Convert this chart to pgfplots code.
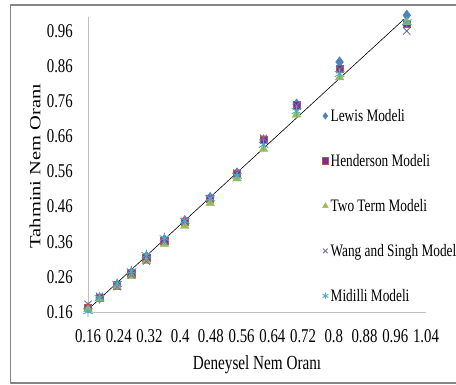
\documentclass[border=0pt]{standalone}
\usepackage{pgfplots}
\pgfplotsset{compat=1.18}
\usepackage{fontspec}
\setmainfont{Liberation Serif}[FakeStretch=0.76]
\newfontfamily\plainserif{Liberation Serif}
\definecolor{cLewis}{HTML}{4F81BD}
\definecolor{cHendF}{HTML}{7030A0}
\definecolor{cHendE}{HTML}{C0504D}
\definecolor{cTwo}{HTML}{9BBB59}
\definecolor{cWang}{HTML}{8064A2}
\definecolor{cMid}{HTML}{4BACC6}
\definecolor{frameGray}{HTML}{868686}
\definecolor{axisGray}{HTML}{BFBFBF}
\begin{document}
\begin{tikzpicture}
\useasboundingbox (0pt,0pt) rectangle (456pt,385pt);
\clip (0pt,0pt) rectangle (456pt,385pt);
\draw[color=frameGray, line width=1.5pt] (10.5pt,2pt) rectangle (480pt,380pt);
\begin{axis}[
  at={(88pt,73pt)}, anchor=south west,
  scale only axis, width=338pt, height=295pt,
  xmin=0.16, xmax=1.04, ymin=0.16, ymax=1.0,
  clip=false,
  axis x line*=bottom, axis y line*=left,
  axis line style={color=axisGray, line width=0.8pt, -},
  major tick length=0pt,
  xtick={0.16,0.24,0.32,0.40,0.48,0.56,0.64,0.72,0.80,0.88,0.96,1.04},
  xticklabels={0.16,0.24,0.32,0.4,0.48,0.56,0.64,0.72,0.8,0.88,0.96,1.04},
  ytick={0.16,0.26,0.36,0.46,0.56,0.66,0.76,0.86,0.96},
  yticklabels={0.16,0.26,0.36,0.46,0.56,0.66,0.76,0.86,0.96},
  ticklabel style={font=\fontsize{19.5}{20}\selectfont, inner sep=0pt},
  xticklabel style={anchor=center, yshift=-24pt},
  yticklabel style={anchor=east, xshift=-15pt},
  xlabel={Deneysel Nem Oranı},
  xlabel style={at={(axis description cs:0.5,-0.18)}, anchor=center, font=\fontsize{20}{21}\selectfont, inner sep=0pt},
  ylabel={\scalebox{1}[0.76]{\plainserif\fontsize{20.5}{21}\selectfont Tahmini Nem Oranı}},
  ylabel style={at={(axis description cs:-0.157,0.495)}, anchor=center, inner sep=0pt},
  legend cell align=left,
  legend image code/.code={\draw[#1, only marks, mark size=3.3pt] plot coordinates {(0pt,0pt)};},
  legend style={at={(axis description cs:0.692,0.685)}, anchor=north west, draw=none, fill=none,
    inner sep=0pt, row sep=33.4pt, column sep=2pt,
    font=\fontsize{17.5}{18}\selectfont,
    nodes={inner sep=0pt, text height=11.6pt, text depth=0pt}},
]
\addplot[black, line width=0.6pt, no marks, forget plot] coordinates {(0.158,0.165) (0.984,0.995)};
\addplot[only marks, mark=diamond*, mark size=5.2pt, color=cLewis, fill=cLewis] coordinates {
(0.160,0.172) (0.190,0.200) (0.236,0.238) (0.273,0.272) (0.312,0.318) (0.359,0.366) (0.412,0.420) (0.478,0.486) (0.548,0.556) (0.617,0.650) (0.703,0.752) (0.815,0.872) (0.990,1.005)};
\addlegendentry{Lewis Modeli}
\addplot[only marks, mark=square*, mark size=3.6pt, draw=cHendE, fill=cHendF, line width=0.8pt] coordinates {
(0.160,0.172) (0.190,0.200) (0.236,0.236) (0.273,0.270) (0.312,0.314) (0.359,0.362) (0.412,0.416) (0.478,0.482) (0.548,0.553) (0.617,0.650) (0.703,0.748) (0.815,0.853) (0.990,0.980)};
\addlegendentry{Henderson Modeli}
\addplot[only marks, mark=triangle*, mark size=5pt, color=cTwo, fill=cTwo] coordinates {
(0.160,0.168) (0.190,0.198) (0.236,0.232) (0.273,0.262) (0.312,0.305) (0.359,0.354) (0.412,0.405) (0.478,0.470) (0.548,0.540) (0.617,0.624) (0.703,0.722) (0.815,0.828) (0.990,0.985)};
\addlegendentry{Two Term Modeli}
\addplot[only marks, mark=x, mark size=5pt, color=cWang, line width=0.9pt] coordinates {
(0.160,0.182) (0.190,0.205) (0.236,0.232) (0.273,0.266) (0.312,0.305) (0.359,0.362) (0.412,0.418) (0.478,0.484) (0.548,0.556) (0.617,0.655) (0.703,0.748) (0.815,0.850) (0.990,0.960)};
\addlegendentry{Wang and Singh Modeli}
\addplot[only marks, mark=asterisk, mark size=5.5pt, color=cMid, line width=0.9pt] coordinates {
(0.160,0.162) (0.190,0.200) (0.236,0.240) (0.273,0.276) (0.312,0.322) (0.359,0.370) (0.412,0.420) (0.478,0.484) (0.548,0.548) (0.617,0.636) (0.703,0.732) (0.815,0.838) (0.990,0.985)};
\addlegendentry{Midilli Modeli}
\end{axis}
\end{tikzpicture}
\end{document}
